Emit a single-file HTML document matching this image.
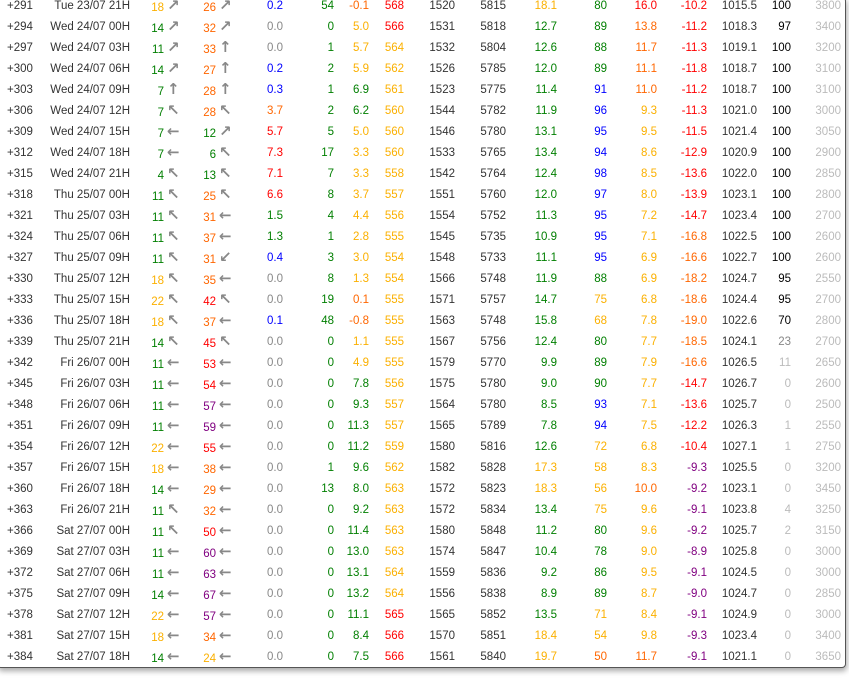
<!DOCTYPE html>
<html><head><meta charset="utf-8"><style>
body{margin:0;background:#fff;width:849px;height:679px;overflow:hidden;position:relative;font-family:"Liberation Sans",sans-serif;font-size:11.5px;color:#333}
.panel{position:absolute;left:-3px;top:-3px;width:847px;height:669px;border:1px solid #555;border-radius:4px;box-shadow:1px 3px 6px rgba(0,0,0,.35);background:#fff}
.w{position:absolute;left:0;top:2px;width:849px;height:670px}
.r{position:absolute;left:0;width:849px;height:21px}
.r span{position:absolute;top:0;line-height:21px;white-space:nowrap}
.r span:nth-child(1){left:7px}
.r span:nth-child(2){right:719px}
.r span:nth-child(3){right:685px;top:2px}
.r span:nth-child(4){left:167px}
.r span:nth-child(5){right:633px;top:2px}
.r span:nth-child(6){left:219px}
.r span:nth-child(7){right:566px}
.r span:nth-child(8){right:515px;color:#007f00}
.r span:nth-child(9){right:480px}
.r span:nth-child(10){right:445px}
.r span:nth-child(11){right:394px}
.r span:nth-child(12){right:343px}
.r span:nth-child(13){right:292px}
.r span:nth-child(14){right:242px}
.r span:nth-child(15){right:192px}
.r span:nth-child(16){right:142px}
.r span:nth-child(17){right:92px}
.r span:nth-child(18){right:58px}
.r span:nth-child(19){right:8px;color:#bbb}
.r span.a{color:#888;font-family:"DejaVu Sans",sans-serif;font-weight:bold;font-size:15px;top:-1px}
.Y{color:#fbb000!important}.O{color:#f60!important}.R{color:#f00!important}.G{color:#007f00!important}.B{color:#00f!important}.P{color:#800080!important}.g{color:#888!important}.L{color:#bbb!important}.K{color:#000!important}
</style></head><body>
<div class="panel"></div>
<div class="w">
<div class="r" style="top:-6px"><span>+291</span><span>Tue 23/07 21H</span><span class="Y">18</span><span class="a">↗</span><span class="O">26</span><span class="a">↗</span><span class="B">0.2</span><span>54</span><span class="O">-0.1</span><span class="R">568</span><span>1520</span><span>5815</span><span class="Y">18.1</span><span class="G">80</span><span class="R">16.0</span><span class="R">-10.2</span><span>1015.5</span><span class="K">100</span><span>3800</span></div>
<div class="r" style="top:15px"><span>+294</span><span>Wed 24/07 00H</span><span class="G">14</span><span class="a">↗</span><span class="O">32</span><span class="a">↗</span><span class="g">0.0</span><span>0</span><span class="Y">5.0</span><span class="R">566</span><span>1531</span><span>5818</span><span class="G">12.7</span><span class="G">89</span><span class="O">13.8</span><span class="R">-11.2</span><span>1018.3</span><span class="K">97</span><span>3400</span></div>
<div class="r" style="top:36px"><span>+297</span><span>Wed 24/07 03H</span><span class="G">11</span><span class="a">↗</span><span class="O">33</span><span class="a">↑</span><span class="g">0.0</span><span>1</span><span class="Y">5.7</span><span class="Y">564</span><span>1532</span><span>5804</span><span class="G">12.6</span><span class="G">88</span><span class="O">11.7</span><span class="R">-11.3</span><span>1019.1</span><span class="K">100</span><span>3200</span></div>
<div class="r" style="top:57px"><span>+300</span><span>Wed 24/07 06H</span><span class="G">14</span><span class="a">↗</span><span class="O">27</span><span class="a">↑</span><span class="B">0.2</span><span>2</span><span class="Y">5.9</span><span class="Y">562</span><span>1526</span><span>5785</span><span class="G">12.0</span><span class="G">89</span><span class="O">11.1</span><span class="R">-11.8</span><span>1018.7</span><span class="K">100</span><span>3100</span></div>
<div class="r" style="top:78px"><span>+303</span><span>Wed 24/07 09H</span><span class="G">7</span><span class="a">↑</span><span class="O">28</span><span class="a">↑</span><span class="B">0.3</span><span>1</span><span class="G">6.9</span><span class="Y">561</span><span>1523</span><span>5775</span><span class="G">11.4</span><span class="B">91</span><span class="O">11.0</span><span class="R">-11.2</span><span>1018.7</span><span class="K">100</span><span>3100</span></div>
<div class="r" style="top:99px"><span>+306</span><span>Wed 24/07 12H</span><span class="G">7</span><span class="a">↖</span><span class="O">28</span><span class="a">↖</span><span class="O">3.7</span><span>2</span><span class="G">6.2</span><span class="Y">560</span><span>1544</span><span>5782</span><span class="G">11.9</span><span class="B">96</span><span class="Y">9.3</span><span class="R">-11.3</span><span>1021.0</span><span class="K">100</span><span>3000</span></div>
<div class="r" style="top:120px"><span>+309</span><span>Wed 24/07 15H</span><span class="G">7</span><span class="a">←</span><span class="G">12</span><span class="a">↗</span><span class="R">5.7</span><span>5</span><span class="Y">5.0</span><span class="Y">560</span><span>1546</span><span>5780</span><span class="G">13.1</span><span class="B">95</span><span class="Y">9.5</span><span class="R">-11.5</span><span>1021.4</span><span class="K">100</span><span>3050</span></div>
<div class="r" style="top:141px"><span>+312</span><span>Wed 24/07 18H</span><span class="G">7</span><span class="a">←</span><span class="G">6</span><span class="a">↖</span><span class="R">7.3</span><span>17</span><span class="Y">3.3</span><span class="Y">560</span><span>1533</span><span>5765</span><span class="G">13.4</span><span class="B">94</span><span class="Y">8.6</span><span class="R">-12.9</span><span>1020.9</span><span class="K">100</span><span>2900</span></div>
<div class="r" style="top:162px"><span>+315</span><span>Wed 24/07 21H</span><span class="G">4</span><span class="a">↖</span><span class="G">13</span><span class="a">↖</span><span class="R">7.1</span><span>7</span><span class="Y">3.3</span><span class="Y">558</span><span>1542</span><span>5764</span><span class="G">12.4</span><span class="B">98</span><span class="Y">8.5</span><span class="R">-13.6</span><span>1022.0</span><span class="K">100</span><span>2850</span></div>
<div class="r" style="top:183px"><span>+318</span><span>Thu 25/07 00H</span><span class="G">11</span><span class="a">↖</span><span class="O">25</span><span class="a">↖</span><span class="R">6.6</span><span>8</span><span class="Y">3.7</span><span class="Y">557</span><span>1551</span><span>5760</span><span class="G">12.0</span><span class="B">97</span><span class="Y">8.0</span><span class="R">-13.9</span><span>1023.1</span><span class="K">100</span><span>2800</span></div>
<div class="r" style="top:204px"><span>+321</span><span>Thu 25/07 03H</span><span class="G">11</span><span class="a">↖</span><span class="O">31</span><span class="a">←</span><span class="G">1.5</span><span>4</span><span class="Y">4.4</span><span class="Y">556</span><span>1554</span><span>5752</span><span class="G">11.3</span><span class="B">95</span><span class="Y">7.2</span><span class="R">-14.7</span><span>1023.4</span><span class="K">100</span><span>2700</span></div>
<div class="r" style="top:225px"><span>+324</span><span>Thu 25/07 06H</span><span class="G">11</span><span class="a">↖</span><span class="O">37</span><span class="a">←</span><span class="G">1.3</span><span>1</span><span class="Y">2.8</span><span class="Y">555</span><span>1545</span><span>5735</span><span class="G">10.9</span><span class="B">95</span><span class="Y">7.1</span><span class="O">-16.8</span><span>1022.5</span><span class="K">100</span><span>2600</span></div>
<div class="r" style="top:246px"><span>+327</span><span>Thu 25/07 09H</span><span class="G">11</span><span class="a">↖</span><span class="O">31</span><span class="a">↙</span><span class="B">0.4</span><span>3</span><span class="Y">3.0</span><span class="Y">554</span><span>1548</span><span>5733</span><span class="G">11.1</span><span class="B">95</span><span class="Y">6.9</span><span class="O">-16.6</span><span>1022.7</span><span class="K">100</span><span>2600</span></div>
<div class="r" style="top:267px"><span>+330</span><span>Thu 25/07 12H</span><span class="Y">18</span><span class="a">↖</span><span class="O">35</span><span class="a">←</span><span class="g">0.0</span><span>8</span><span class="Y">1.3</span><span class="Y">554</span><span>1566</span><span>5748</span><span class="G">11.9</span><span class="G">88</span><span class="Y">6.9</span><span class="O">-18.2</span><span>1024.7</span><span class="K">95</span><span>2550</span></div>
<div class="r" style="top:288px"><span>+333</span><span>Thu 25/07 15H</span><span class="Y">22</span><span class="a">↖</span><span class="R">42</span><span class="a">↖</span><span class="g">0.0</span><span>19</span><span class="O">0.1</span><span class="Y">555</span><span>1571</span><span>5757</span><span class="G">14.7</span><span class="Y">75</span><span class="Y">6.8</span><span class="O">-18.6</span><span>1024.4</span><span class="K">95</span><span>2700</span></div>
<div class="r" style="top:309px"><span>+336</span><span>Thu 25/07 18H</span><span class="Y">18</span><span class="a">↖</span><span class="O">37</span><span class="a">←</span><span class="B">0.1</span><span>48</span><span class="O">-0.8</span><span class="Y">555</span><span>1563</span><span>5748</span><span class="G">15.8</span><span class="Y">68</span><span class="Y">7.8</span><span class="O">-19.0</span><span>1022.6</span><span class="K">70</span><span>2800</span></div>
<div class="r" style="top:330px"><span>+339</span><span>Thu 25/07 21H</span><span class="G">14</span><span class="a">↖</span><span class="R">45</span><span class="a">↖</span><span class="g">0.0</span><span>0</span><span class="Y">1.1</span><span class="Y">555</span><span>1567</span><span>5756</span><span class="G">12.4</span><span class="G">80</span><span class="Y">7.7</span><span class="O">-18.5</span><span>1024.1</span><span class="g">23</span><span>2700</span></div>
<div class="r" style="top:351px"><span>+342</span><span>Fri 26/07 00H</span><span class="G">11</span><span class="a">←</span><span class="R">53</span><span class="a">←</span><span class="g">0.0</span><span>0</span><span class="Y">4.9</span><span class="Y">555</span><span>1579</span><span>5770</span><span class="G">9.9</span><span class="G">89</span><span class="Y">7.9</span><span class="O">-16.6</span><span>1026.5</span><span class="L">11</span><span>2650</span></div>
<div class="r" style="top:372px"><span>+345</span><span>Fri 26/07 03H</span><span class="G">11</span><span class="a">←</span><span class="R">54</span><span class="a">←</span><span class="g">0.0</span><span>0</span><span class="G">7.8</span><span class="Y">556</span><span>1575</span><span>5780</span><span class="G">9.0</span><span class="G">90</span><span class="Y">7.7</span><span class="R">-14.7</span><span>1026.7</span><span class="L">0</span><span>2600</span></div>
<div class="r" style="top:393px"><span>+348</span><span>Fri 26/07 06H</span><span class="G">11</span><span class="a">←</span><span class="P">57</span><span class="a">←</span><span class="g">0.0</span><span>0</span><span class="G">9.3</span><span class="Y">557</span><span>1564</span><span>5780</span><span class="G">8.5</span><span class="B">93</span><span class="Y">7.1</span><span class="R">-13.6</span><span>1025.7</span><span class="L">0</span><span>2500</span></div>
<div class="r" style="top:414px"><span>+351</span><span>Fri 26/07 09H</span><span class="G">11</span><span class="a">←</span><span class="P">59</span><span class="a">←</span><span class="g">0.0</span><span>0</span><span class="G">11.3</span><span class="Y">557</span><span>1565</span><span>5789</span><span class="G">7.8</span><span class="B">94</span><span class="Y">7.5</span><span class="R">-12.2</span><span>1026.3</span><span class="L">1</span><span>2550</span></div>
<div class="r" style="top:435px"><span>+354</span><span>Fri 26/07 12H</span><span class="Y">22</span><span class="a">←</span><span class="R">55</span><span class="a">←</span><span class="g">0.0</span><span>0</span><span class="G">11.2</span><span class="Y">559</span><span>1580</span><span>5816</span><span class="G">12.6</span><span class="Y">72</span><span class="Y">6.8</span><span class="R">-10.4</span><span>1027.1</span><span class="L">1</span><span>2750</span></div>
<div class="r" style="top:456px"><span>+357</span><span>Fri 26/07 15H</span><span class="Y">18</span><span class="a">←</span><span class="O">38</span><span class="a">←</span><span class="g">0.0</span><span>1</span><span class="G">9.6</span><span class="Y">562</span><span>1582</span><span>5828</span><span class="Y">17.3</span><span class="Y">58</span><span class="Y">8.3</span><span class="P">-9.3</span><span>1025.5</span><span class="L">0</span><span>3200</span></div>
<div class="r" style="top:477px"><span>+360</span><span>Fri 26/07 18H</span><span class="G">14</span><span class="a">←</span><span class="O">29</span><span class="a">←</span><span class="g">0.0</span><span>13</span><span class="G">8.0</span><span class="Y">563</span><span>1572</span><span>5823</span><span class="Y">18.3</span><span class="Y">56</span><span class="O">10.0</span><span class="P">-9.2</span><span>1023.1</span><span class="L">0</span><span>3450</span></div>
<div class="r" style="top:498px"><span>+363</span><span>Fri 26/07 21H</span><span class="G">11</span><span class="a">↖</span><span class="O">32</span><span class="a">←</span><span class="g">0.0</span><span>0</span><span class="G">9.2</span><span class="Y">563</span><span>1572</span><span>5834</span><span class="G">13.4</span><span class="Y">75</span><span class="Y">9.6</span><span class="P">-9.1</span><span>1023.8</span><span class="L">4</span><span>3250</span></div>
<div class="r" style="top:519px"><span>+366</span><span>Sat 27/07 00H</span><span class="G">11</span><span class="a">↖</span><span class="R">50</span><span class="a">←</span><span class="g">0.0</span><span>0</span><span class="G">11.4</span><span class="Y">563</span><span>1580</span><span>5848</span><span class="G">11.2</span><span class="G">80</span><span class="Y">9.6</span><span class="P">-9.2</span><span>1025.7</span><span class="L">2</span><span>3150</span></div>
<div class="r" style="top:540px"><span>+369</span><span>Sat 27/07 03H</span><span class="G">11</span><span class="a">←</span><span class="P">60</span><span class="a">←</span><span class="g">0.0</span><span>0</span><span class="G">13.0</span><span class="Y">563</span><span>1574</span><span>5847</span><span class="G">10.4</span><span class="G">78</span><span class="Y">9.0</span><span class="P">-8.9</span><span>1025.8</span><span class="L">0</span><span>3000</span></div>
<div class="r" style="top:561px"><span>+372</span><span>Sat 27/07 06H</span><span class="G">11</span><span class="a">←</span><span class="P">63</span><span class="a">←</span><span class="g">0.0</span><span>0</span><span class="G">13.1</span><span class="Y">564</span><span>1559</span><span>5836</span><span class="G">9.2</span><span class="G">86</span><span class="Y">9.5</span><span class="P">-9.1</span><span>1024.5</span><span class="L">0</span><span>3000</span></div>
<div class="r" style="top:582px"><span>+375</span><span>Sat 27/07 09H</span><span class="G">14</span><span class="a">←</span><span class="P">67</span><span class="a">←</span><span class="g">0.0</span><span>0</span><span class="G">13.2</span><span class="Y">564</span><span>1556</span><span>5838</span><span class="G">8.9</span><span class="G">89</span><span class="Y">8.7</span><span class="P">-9.0</span><span>1024.7</span><span class="L">0</span><span>2850</span></div>
<div class="r" style="top:603px"><span>+378</span><span>Sat 27/07 12H</span><span class="Y">22</span><span class="a">←</span><span class="P">57</span><span class="a">←</span><span class="g">0.0</span><span>0</span><span class="G">11.1</span><span class="R">565</span><span>1565</span><span>5852</span><span class="G">13.5</span><span class="Y">71</span><span class="Y">8.4</span><span class="P">-9.1</span><span>1024.9</span><span class="L">0</span><span>3000</span></div>
<div class="r" style="top:624px"><span>+381</span><span>Sat 27/07 15H</span><span class="Y">18</span><span class="a">←</span><span class="O">34</span><span class="a">←</span><span class="g">0.0</span><span>0</span><span class="G">8.4</span><span class="R">566</span><span>1570</span><span>5851</span><span class="Y">18.4</span><span class="Y">54</span><span class="Y">9.8</span><span class="P">-9.3</span><span>1023.4</span><span class="L">0</span><span>3400</span></div>
<div class="r" style="top:645px"><span>+384</span><span>Sat 27/07 18H</span><span class="G">14</span><span class="a">←</span><span class="Y">24</span><span class="a">←</span><span class="g">0.0</span><span>0</span><span class="G">7.5</span><span class="R">566</span><span>1561</span><span>5840</span><span class="Y">19.7</span><span class="O">50</span><span class="O">11.7</span><span class="P">-9.1</span><span>1021.1</span><span class="L">0</span><span>3650</span></div>
</div>
</body></html>
